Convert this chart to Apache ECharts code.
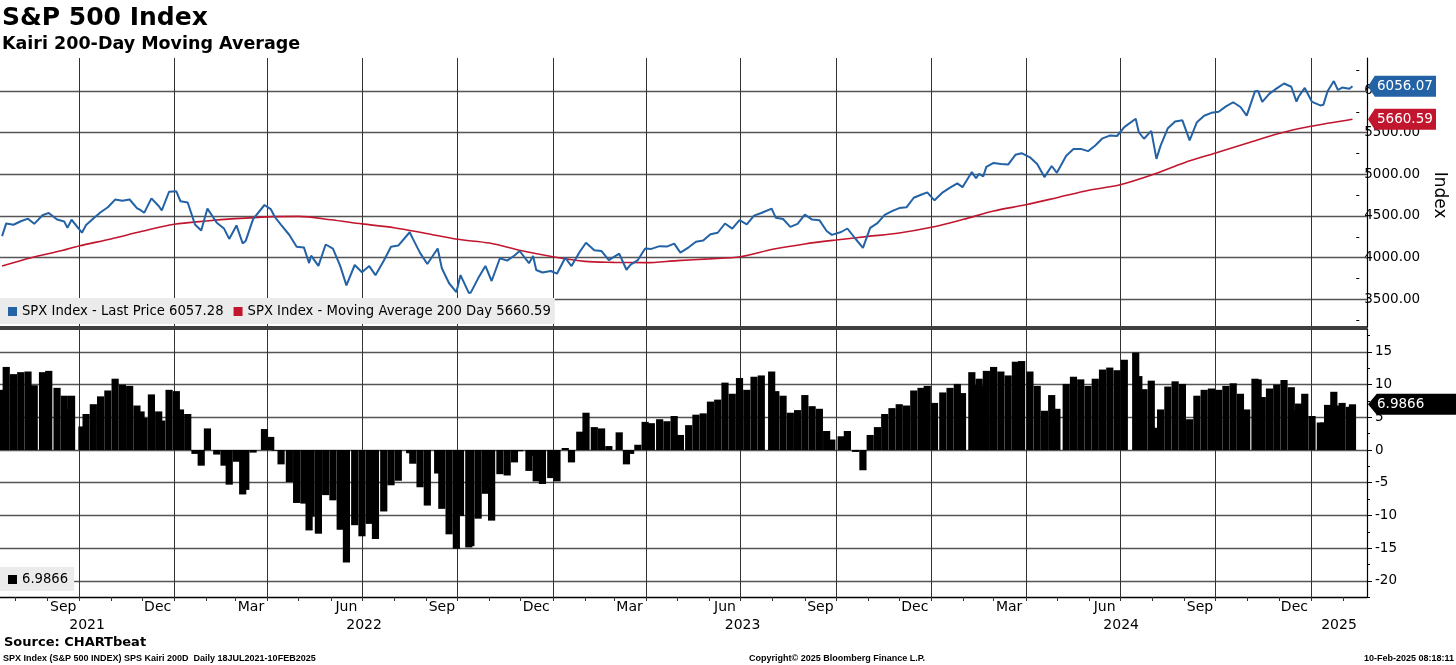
<!DOCTYPE html>
<html><head><meta charset="utf-8">
<script src="https://cdn.jsdelivr.net/npm/echarts@6/dist/echarts.min.js"></script>
<style>html,body{margin:0;padding:0;background:#fff}#c{width:1456px;height:665px}</style>
</head><body><div id="c"></div>
<script>
// ---------- DATA ----------
const spx2021 = [['2021-07-19',4258],['2021-07-23',4411],['2021-07-30',4395],['2021-08-06',4437],['2021-08-13',4468],['2021-08-19',4406],['2021-08-27',4509],['2021-09-02',4537],['2021-09-10',4458],['2021-09-17',4433],['2021-09-20',4358],['2021-09-24',4455],['2021-10-04',4300],['2021-10-08',4391],['2021-10-15',4471],['2021-10-22',4545],['2021-10-29',4605],['2021-11-05',4697],['2021-11-12',4682],['2021-11-19',4698],['2021-11-26',4595],['2021-11-30',4567],['2021-12-03',4538],['2021-12-10',4712],['2021-12-17',4620],['2021-12-20',4568],['2021-12-27',4791]];
const spx2022 = [['2022-01-03',4796],['2022-01-07',4677],['2022-01-14',4662],['2022-01-21',4398],['2022-01-27',4326],['2022-02-02',4589],['2022-02-11',4419],['2022-02-18',4349],['2022-02-23',4225],['2022-03-02',4387],['2022-03-08',4170],['2022-03-11',4204],['2022-03-18',4463],['2022-03-29',4632],['2022-04-04',4583],['2022-04-08',4488],['2022-04-14',4393],['2022-04-22',4272],['2022-04-29',4132],['2022-05-06',4123],['2022-05-11',3935],['2022-05-13',4024],['2022-05-20',3901],['2022-05-27',4158],['2022-06-03',4109],['2022-06-10',3901],['2022-06-16',3667],['2022-06-24',3912],['2022-07-01',3825],['2022-07-08',3899],['2022-07-14',3790],['2022-07-22',3962],['2022-07-29',4130],['2022-08-05',4145],['2022-08-16',4305],['2022-08-19',4228],['2022-08-26',4058],['2022-09-02',3924],['2022-09-12',4110],['2022-09-16',3873],['2022-09-23',3693],['2022-09-30',3586],['2022-10-04',3791],['2022-10-12',3577],['2022-10-14',3583],['2022-10-21',3752],['2022-10-28',3901],['2022-11-03',3720],['2022-11-11',3993],['2022-11-18',3965],['2022-11-25',4026],['2022-11-30',4080],['2022-12-09',3934],['2022-12-13',4019],['2022-12-16',3852],['2022-12-22',3822],['2022-12-30',3840]];
const spx2023 = [['2023-01-05',3808],['2023-01-13',3999],['2023-01-19',3899],['2023-01-27',4071],['2023-02-02',4179],['2023-02-10',4090],['2023-02-17',4079],['2023-02-24',3970],['2023-03-06',4048],['2023-03-13',3855],['2023-03-17',3917],['2023-03-24',3971],['2023-03-31',4109],['2023-04-06',4105],['2023-04-14',4138],['2023-04-21',4133],['2023-04-28',4169],['2023-05-04',4061],['2023-05-12',4124],['2023-05-19',4192],['2023-05-26',4205],['2023-06-02',4282],['2023-06-09',4299],['2023-06-16',4410],['2023-06-23',4348],['2023-06-30',4450],['2023-07-07',4399],['2023-07-14',4505],['2023-07-21',4536],['2023-07-31',4589],['2023-08-04',4478],['2023-08-11',4464],['2023-08-18',4370],['2023-08-25',4406],['2023-09-01',4516],['2023-09-08',4457],['2023-09-15',4450],['2023-09-22',4320],['2023-09-27',4274],['2023-10-06',4308],['2023-10-12',4350],['2023-10-20',4224],['2023-10-27',4117],['2023-11-03',4358],['2023-11-10',4415],['2023-11-17',4514],['2023-11-24',4559],['2023-12-01',4595],['2023-12-08',4604],['2023-12-15',4719],['2023-12-22',4755],['2023-12-28',4783]];
const spx2024 = [['2024-01-04',4688],['2024-01-12',4784],['2024-01-19',4840],['2024-01-26',4891],['2024-01-31',4846],['2024-02-09',5027],['2024-02-13',4953],['2024-02-16',5006],['2024-02-20',4975],['2024-02-23',5089],['2024-03-01',5137],['2024-03-08',5124],['2024-03-15',5117],['2024-03-22',5234],['2024-03-28',5254],['2024-04-05',5204],['2024-04-12',5123],['2024-04-19',4967],['2024-04-26',5100],['2024-05-01',5018],['2024-05-10',5223],['2024-05-17',5303],['2024-05-24',5305],['2024-05-31',5278],['2024-06-07',5347],['2024-06-14',5432],['2024-06-21',5465],['2024-06-28',5460],['2024-07-05',5567],['2024-07-16',5667],['2024-07-19',5505],['2024-07-24',5427],['2024-07-31',5522],['2024-08-05',5186],['2024-08-09',5344],['2024-08-16',5554],['2024-08-23',5634],['2024-08-30',5648],['2024-09-06',5408],['2024-09-13',5626],['2024-09-20',5703],['2024-09-27',5738],['2024-10-04',5751],['2024-10-11',5815],['2024-10-18',5865],['2024-10-25',5808],['2024-10-31',5705],['2024-11-08',5996],['2024-11-11',6001],['2024-11-15',5870],['2024-11-22',5969],['2024-11-29',6032],['2024-12-06',6090],['2024-12-13',6051],['2024-12-18',5872],['2024-12-20',5931],['2024-12-26',6037]];
const spx2025 = [['2025-01-02',5869],['2025-01-10',5827],['2025-01-13',5836],['2025-01-17',5997],['2025-01-23',6119],['2025-01-27',6012],['2025-01-31',6041],['2025-02-07',6026],['2025-02-10',6056.07]];

const ma200 = [['2021-07-19',3900],['2021-08-16',4000],['2021-09-15',4085],['2021-10-01',4140],['2021-11-01',4225],['2021-12-01',4316],['2022-01-01',4400],['2022-02-01',4440],['2022-03-01',4468],['2022-04-01',4490],['2022-05-01',4495],['2022-06-01',4455],['2022-07-01',4405],['2022-08-01',4360],['2022-09-01',4290],['2022-10-01',4220],['2022-11-01',4175],['2022-12-01',4085],['2023-01-01',4011],['2023-02-01',3955],['2023-03-01',3944],['2023-04-01',3940],['2023-05-01',3965],['2023-06-01',3985],['2023-07-01',4011],['2023-08-01',4100],['2023-09-01',4165],['2023-10-01',4212],['2023-11-01',4255],['2023-12-01',4296],['2024-01-01',4364],['2024-02-01',4460],['2024-03-01',4560],['2024-04-01',4635],['2024-05-01',4720],['2024-06-01',4810],['2024-07-01',4875],['2024-08-01',4995],['2024-09-01',5140],['2024-10-01',5256],['2024-11-01',5375],['2024-12-01',5490],['2025-01-01',5576],['2025-02-10',5660.59]];

const kairi2021 = [['2021-07-19',9.2],['2021-07-23',12.7],['2021-07-30',11.6],['2021-08-06',11.9],['2021-08-13',12.0],['2021-08-19',9.9],['2021-08-27',11.9],['2021-09-02',12.1],['2021-09-10',9.5],['2021-09-17',8.3],['2021-09-20',6.2],['2021-09-24',8.3],['2021-10-04',3.6],['2021-10-08',5.5],['2021-10-15',7.0],['2021-10-22',8.2],['2021-10-29',9.1],['2021-11-05',10.9],['2021-11-12',10.0],['2021-11-19',9.8],['2021-11-26',6.8],['2021-11-30',5.9],['2021-12-03',4.9],['2021-12-10',8.5],['2021-12-17',5.9],['2021-12-20',4.5],['2021-12-27',9.2]];
const kairi2022 = [['2022-01-03',9.0],['2022-01-07',6.2],['2022-01-14',5.5],['2022-01-21',-0.6],['2022-01-27',-2.4],['2022-02-02',3.3],['2022-02-11',-0.7],['2022-02-18',-2.4],['2022-02-23',-5.3],['2022-03-02',-1.8],['2022-03-08',-6.8],['2022-03-11',-6.1],['2022-03-18',-0.4],['2022-03-29',3.2],['2022-04-04',2.0],['2022-04-08',-0.1],['2022-04-14',-2.2],['2022-04-22',-4.9],['2022-04-29',-8.1],['2022-05-06',-8.2],['2022-05-11',-12.3],['2022-05-13',-10.2],['2022-05-20',-12.8],['2022-05-27',-6.9],['2022-06-03',-7.7],['2022-06-10',-12.2],['2022-06-16',-17.2],['2022-06-24',-11.5],['2022-07-01',-13.2],['2022-07-08',-11.3],['2022-07-14',-13.6],['2022-07-22',-9.4],['2022-07-29',-5.4],['2022-08-05',-4.7],['2022-08-16',-0.5],['2022-08-19',-2.1],['2022-08-26',-5.7],['2022-09-02',-8.5],['2022-09-12',-3.6],['2022-09-16',-9.0],['2022-09-23',-12.9],['2022-09-30',-15.1],['2022-10-04',-10.1],['2022-10-12',-14.9],['2022-10-14',-14.7],['2022-10-21',-10.5],['2022-10-28',-6.7],['2022-11-03',-10.8],['2022-11-11',-3.7],['2022-11-18',-3.9],['2022-11-25',-1.9],['2022-11-30',-0.2],['2022-12-09',-3.2],['2022-12-13',-0.9],['2022-12-16',-4.8],['2022-12-22',-5.2],['2022-12-30',-4.3]];
const kairi2023 = [['2023-01-05',-4.8],['2023-01-13',0.3],['2023-01-19',-1.9],['2023-01-27',2.8],['2023-02-02',5.7],['2023-02-10',3.5],['2023-02-17',3.3],['2023-02-24',0.6],['2023-03-06',2.7],['2023-03-13',-2.2],['2023-03-17',-0.6],['2023-03-24',0.8],['2023-03-31',4.3],['2023-04-06',4.1],['2023-04-14',4.7],['2023-04-21',4.4],['2023-04-28',5.2],['2023-05-04',2.3],['2023-05-12',3.8],['2023-05-19',5.4],['2023-05-26',5.6],['2023-06-02',7.4],['2023-06-09',7.7],['2023-06-16',10.3],['2023-06-23',8.6],['2023-06-30',11.0],['2023-07-07',9.2],['2023-07-14',11.2],['2023-07-21',11.4],['2023-07-31',12.0],['2023-08-04',9.0],['2023-08-11',8.3],['2023-08-18',5.7],['2023-08-25',6.1],['2023-09-01',8.4],['2023-09-08',6.7],['2023-09-15',6.3],['2023-09-22',2.9],['2023-09-27',1.6],['2023-10-06',2.1],['2023-10-12',2.9],['2023-10-20',-0.3],['2023-10-27',-3.1],['2023-11-03',2.3],['2023-11-10',3.5],['2023-11-17',5.5],['2023-11-24',6.4],['2023-12-01',7.0],['2023-12-08',6.8],['2023-12-15',9.1],['2023-12-22',9.5],['2023-12-28',9.8]];
const kairi2024 = [['2024-01-04',7.2],['2024-01-12',8.8],['2024-01-19',9.5],['2024-01-26',10.1],['2024-01-31',8.7],['2024-02-09',11.9],['2024-02-13',9.9],['2024-02-16',10.9],['2024-02-20',9.8],['2024-02-23',12.1],['2024-03-01',12.7],['2024-03-08',12.0],['2024-03-15',11.4],['2024-03-22',13.5],['2024-03-28',13.6],['2024-04-05',12.0],['2024-04-12',9.8],['2024-04-19',6.0],['2024-04-26',8.4],['2024-05-01',6.3],['2024-05-10',10.1],['2024-05-17',11.2],['2024-05-24',10.8],['2024-05-31',9.8],['2024-06-07',10.9],['2024-06-14',12.3],['2024-06-21',12.6],['2024-06-28',12.2],['2024-07-05',13.8],['2024-07-16',14.9],['2024-07-19',11.3],['2024-07-24',9.3],['2024-07-31',10.6],['2024-08-05',3.4],['2024-08-09',6.2],['2024-08-16',9.7],['2024-08-23',10.5],['2024-08-30',10.1],['2024-09-06',4.7],['2024-09-13',8.3],['2024-09-20',9.2],['2024-09-27',9.4],['2024-10-04',9.2],['2024-10-11',9.8],['2024-10-18',10.2],['2024-10-25',8.6],['2024-10-31',6.2],['2024-11-08',10.9],['2024-11-11',10.8],['2024-11-15',8.1],['2024-11-22',9.4],['2024-11-29',10.0],['2024-12-06',10.7],['2024-12-13',9.6],['2024-12-18',6.1],['2024-12-20',7.1],['2024-12-26',8.6]];
const kairi2025 = [['2025-01-02',5.2],['2025-01-10',4.2],['2025-01-13',4.2],['2025-01-17',6.9],['2025-01-23',8.9],['2025-01-27',6.8],['2025-01-31',7.2],['2025-02-07',6.6],['2025-02-10',6.9866]];

const indexTicks = [3500, 4000, 4500, 5000, 5500, 6000];
const kairiTicks = [-20, -15, -10, -5, 0, 5, 10, 15];
const quarterLines = ['2021-10-01','2022-01-01','2022-04-01','2022-07-01','2022-10-01','2023-01-01','2023-04-01','2023-07-01','2023-10-01','2024-01-01','2024-04-01','2024-07-01','2024-10-01','2025-01-01'];
const monthLabelDates = ['2021-09-16','2021-12-16','2022-03-16','2022-06-16','2022-09-16','2022-12-16','2023-03-16','2023-06-16','2023-09-16','2023-12-16','2024-03-16','2024-06-16','2024-09-16','2024-12-16'];
const monthLabelTexts = ['Sep','Dec','Mar','Jun','Sep','Dec','Mar','Jun','Sep','Dec','Mar','Jun','Sep','Dec'];
const yearLabelDates = ['2021-10-09','2022-07-03','2023-07-03','2024-07-02','2025-01-28'];
const yearLabelTexts = ['2021','2022','2023','2024','2025'];
const yearSeparators = ['2022-01-01','2023-01-01','2024-01-01','2025-01-01'];
const lastPrice = 6056.07, lastPriceLabel = '6056.07';
const lastMA = 5660.59, lastMALabel = '5660.59';
const lastKairi = 6.9866, lastKairiLabel = '6.9866';
const priceName = 'SPX Index - Last Price 6057.28';
const maName = 'SPX Index - Moving Average 200 Day 5660.59';
const kairiName = '6.9866';

// ---------- HELPERS ----------
function ts(s){ const p = s.split('-').map(Number); return Date.UTC(p[0], p[1]-1, p[2]); }
const toPts = arr => arr.map(d => [ts(d[0]), d[1]]);
const spx = toPts([].concat(spx2021, spx2022, spx2023, spx2024, spx2025));
const kairi = toPts([].concat(kairi2021, kairi2022, kairi2023, kairi2024, kairi2025));
const ma = toPts(ma200);
const xMin = ts('2021-07-17'), xMax = ts('2025-02-24');
const monthStarts = [];
for (let y = 2021; y <= 2025; y++) for (let m = 0; m < 12; m++) {
  const t = Date.UTC(y, m, 1); if (t > xMin && t < xMax) monthStarts.push(t);
}
const monthMap = {}; monthLabelDates.forEach((d,i)=>monthMap[ts(d)] = monthLabelTexts[i]);
const yearMap = {}; yearLabelDates.forEach((d,i)=>yearMap[ts(d)] = yearLabelTexts[i]);

const FONT = 'DejaVu Sans';
const BLUE = '#2262a5', RED = '#c1162e';
const hideAll = {axisLine:{show:false},axisTick:{show:false},axisLabel:{show:false},splitLine:{show:false}};

// layout (px)
const L = 0, R = 89;
const topA = 58, hA = 269;
const topB = 49.33, hB = 291.67;
const topC = 329, hC = 268;
const topD = 319.2, hD = 294.3;

const chart = echarts.init(document.getElementById('c'), null, {renderer:'canvas'});
// Bloomberg-style value tag on the right axis (pentagon pointing left)
const tag = (val, text, color, w) => ({
  z:8, silent:true, animation:false,
  symbol:'path://M0,10L7,0L70,0L70,20L7,20Z', symbolKeepAspect:false,
  symbolSize:[w,21], symbolOffset:[w/2 + 1, 0],
  itemStyle:{color},
  label:{show:true, position:'insideLeft', distance:9, formatter:text, color:'#fff',
    fontFamily:FONT, fontSize:13.5},
  data:[{coord:[xMax, val]}]
});
const xv = (grid, extra) => Object.assign({type:'value', gridIndex:grid, min:xMin, max:xMax, scale:true}, hideAll, extra||{});

const option = {
  animation:false, backgroundColor:'#fff',
  textStyle:{fontFamily:FONT},
  title:[
    {text:'S&P 500 Index', left:2, top:6, padding:0, textStyle:{fontFamily:FONT, fontWeight:'bold', fontSize:25, color:'#000'}},
    {text:'Kairi 200-Day Moving Average', left:2, top:35, padding:0, textStyle:{fontFamily:FONT, fontWeight:'bold', fontSize:17.5, color:'#000'}},
    {text:'Source: CHARTbeat', left:4, top:636, padding:0, textStyle:{fontFamily:FONT, fontWeight:'bold', fontSize:13, color:'#000'}},
    {text:'SPX Index (S&P 500 INDEX) SPS Kairi 200D  Daily 18JUL2021-10FEB2025', left:3, top:654, padding:0, textStyle:{fontFamily:'Liberation Sans', fontSize:9, color:'#000'}},
    {text:'Copyright\u00a9 2025 Bloomberg Finance L.P.', left:749, top:654, padding:0, textStyle:{fontFamily:'Liberation Sans', fontSize:9, color:'#000'}},
    {text:'10-Feb-2025 08:18:11', right:2, top:654, padding:0, textStyle:{fontFamily:'Liberation Sans', fontSize:9, color:'#000'}}
  ],
  legend:[
    {data:[priceName, maName], left:0, top:298, orient:'horizontal', icon:'rect', itemWidth:9, itemHeight:9, itemGap:10,
     backgroundColor:'#ebebeb', padding:[7,4,6,8], textStyle:{fontFamily:FONT, fontSize:13.2, color:'#000'}, selectedMode:false},
    {data:[kairiName], left:0, top:567, icon:'rect', itemWidth:9, itemHeight:9,
     backgroundColor:'#ebebeb', padding:[6,6,5,8], textStyle:{fontFamily:FONT, fontSize:13.2, color:'#000'}, selectedMode:false}
  ],
  grid:[
    {left:L, right:R, top:topA, height:hA},
    {left:L, right:R, top:topB, height:hB},
    {left:L, right:R, top:topC, height:hC},
    {left:L, right:R, top:topD, height:hD}
  ],
  xAxis:[
    xv(0, {position:'bottom', axisLine:{show:true, onZero:false, lineStyle:{color:'#000', width:1.6}}}),
    xv(1, {show:false}),
    xv(2, {position:'bottom',
      axisLine:{show:true, onZero:false, lineStyle:{color:'#000', width:1.3}},
      axisTick:{show:true, customValues:monthStarts, length:4, lineStyle:{color:'#333'}},
      axisLabel:{show:true, customValues:monthLabelDates.map(ts), formatter:v=>monthMap[v]||'', margin:3,
        fontFamily:FONT, fontSize:14, color:'#000', hideOverlap:false, showMinLabel:true, showMaxLabel:true}}),
    xv(2, {position:'bottom', offset:18,
      axisTick:{show:true, customValues:yearSeparators.map(ts), length:21, lineStyle:{color:'#999', width:1}},
      axisLabel:{show:true, customValues:yearLabelDates.map(ts), formatter:v=>yearMap[v]||'', margin:3,
        fontFamily:FONT, fontSize:14, color:'#000', hideOverlap:false, showMinLabel:true, showMaxLabel:true}}),
    xv(2, {position:'top', axisLine:{show:true, onZero:false, lineStyle:{color:'#000', width:1.6}}}),
    xv(3, {show:false})
  ],
  yAxis:[
    Object.assign({}, hideAll, {type:'value', gridIndex:0, position:'right', min:3168, max:6396,
      axisLine:{show:true, lineStyle:{color:'#000', width:1.2}}}),
    {type:'value', gridIndex:1, position:'right', min:3000, max:6500, interval:500,
      name:'Index', nameLocation:'middle', nameRotate:-90, nameGap:70,
      nameTextStyle:{fontFamily:FONT, fontSize:17, color:'#000'},
      axisLine:{show:false},
      axisTick:{show:true, customValues:indexTicks, length:5, lineStyle:{color:'#000'}},
      minorTick:{show:true, splitNumber:2, length:3, lineStyle:{color:'#000'}},
      axisLabel:{show:true, customValues:indexTicks, margin:8, fontFamily:FONT, fontSize:13.5, color:'#000',
        formatter:v=> indexTicks.indexOf(v) >= 0 ? v.toFixed(2) : ''},
      splitLine:{show:false}},
    Object.assign({}, hideAll, {type:'value', gridIndex:2, position:'right', min:-22.48, max:18.5,
      axisLine:{show:true, onZero:false, lineStyle:{color:'#000', width:1.2}}}),
    {type:'value', gridIndex:3, position:'right', min:-25, max:20, interval:5,
      axisLine:{show:false},
      axisTick:{show:true, customValues:kairiTicks, length:5, lineStyle:{color:'#000'}},
      minorTick:{show:true, splitNumber:2, length:3, lineStyle:{color:'#000'}},
      axisLabel:{show:true, customValues:kairiTicks, margin:8, fontFamily:FONT, fontSize:13.5, color:'#000',
        formatter:v=> kairiTicks.indexOf(v) >= 0 ? String(v) : ''},
      splitLine:{show:false}}
  ],
  series:[
    {type:'line', name:'gridTop', xAxisIndex:0, yAxisIndex:0, data:[], silent:true,
      markLine:{z:1, silent:true, symbol:['none','none'], animation:false, label:{show:false},
        data:[].concat(
          indexTicks.map(v=>({yAxis:v, lineStyle:{color:'#555', width:1.3, type:'solid'}})),
          quarterLines.map(d=>({xAxis:ts(d), lineStyle:{color:'#333', width:1, type:'solid'}}))
        )}},
    {type:'line', name:maName, xAxisIndex:0, yAxisIndex:0, data:ma, smooth:0.3, showSymbol:false, z:3,
      lineStyle:{color:RED, width:1.6}, itemStyle:{color:RED},
      markPoint:tag(lastMA, lastMALabel, RED, 68)},
    {type:'line', name:priceName, xAxisIndex:0, yAxisIndex:0, data:spx, showSymbol:false, z:4,
      lineStyle:{color:BLUE, width:2}, itemStyle:{color:BLUE},
      markPoint:tag(lastPrice, lastPriceLabel, BLUE, 68)},
    {type:'line', name:'gridBottom', xAxisIndex:2, yAxisIndex:2, data:[], silent:true,
      markLine:{z:1, silent:true, symbol:['none','none'], animation:false, label:{show:false},
        data:[].concat(
          kairiTicks.map(v=>({yAxis:v, lineStyle:{color:'#555', width:1.3, type:'solid'}})),
          quarterLines.map(d=>({xAxis:ts(d), lineStyle:{color:'#333', width:1, type:'solid'}}))
        )}},
    {type:'bar', name:kairiName, xAxisIndex:2, yAxisIndex:2, data:kairi, barWidth:7.2, z:3,
      itemStyle:{color:'#000'},
      markPoint:tag(lastKairi, lastKairiLabel, '#000', 88)}
  ]
};
chart.setOption(option);
</script>
</body></html>
